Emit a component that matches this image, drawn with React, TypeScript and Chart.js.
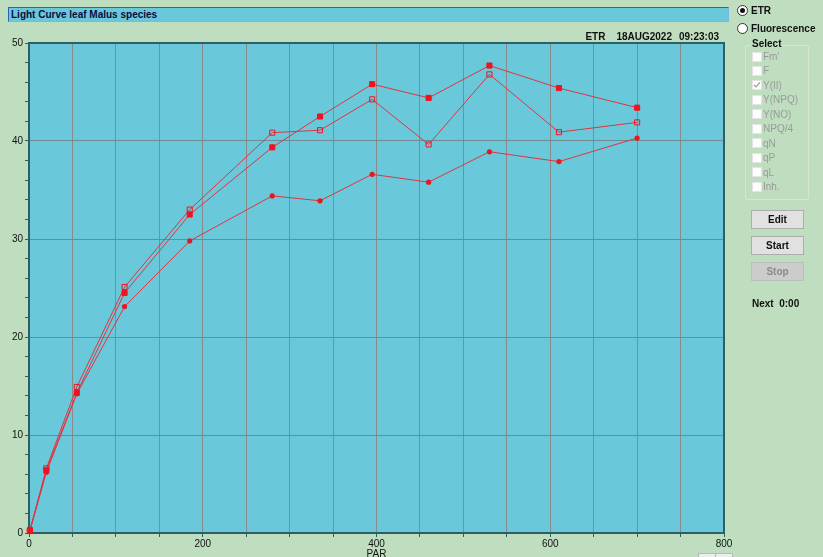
import React, { useEffect, useRef } from 'react';
import { Chart, registerables } from 'chart.js';

Chart.register(...registerables);

// ---- data ----
const PAR = [1, 20, 55, 110, 185, 280, 335, 395, 460, 530, 610, 700];
const etrFilledSquare = [0.3, 6.4, 14.3, 24.5, 32.5, 39.35, 42.5, 45.8, 44.4, 47.7, 45.4, 43.4];
const etrOpenSquare = [0.2, 6.6, 14.9, 25.1, 33.0, 40.85, 41.1, 44.25, 39.65, 46.8, 40.9, 41.9];
const etrCircle = [0.2, 6.2, 14.2, 23.1, 29.8, 34.4, 33.9, 36.6, 35.8, 38.9, 37.9, 40.3];

const xMin = 0;
const xMax = 800;
const xGridStep = 50;
const xLabelStep = 200;
const yMin = 0;
const yMax = 50;
const yMinorStep = 2;
const yLabelStep = 10;

const titleText = 'Light Curve leaf Malus species';
const stampParts = ['ETR', '18AUG2022', '09:23:03'];
const xAxisTitle = 'PAR';
const radioItems = ['ETR', 'Fluorescence'];
const checkItems = ["Fm'", 'F', 'Y(II)', 'Y(NPQ)', 'Y(NO)', 'NPQ/4', 'qN', 'qP', 'qL', 'Inh.'];
const checkedItems = ['Y(II)'];
const buttons = ['Edit', 'Start', 'Stop'];
const nextText = 'Next  0:00';

// ---- styles ----
const BG = '#bfddbf';
const PLOT = '#69c9db';
const GRID_V = '#868a8b';
const GRID_H = '#6f8a90';
const AXIS = '#2d5f66';
const LINE = '#e0343f';
const MARK = '#f2121e';
const TICK_FONT = { family: '"Liberation Sans Narrow", "Liberation Sans", Arial, sans-serif', size: 10 };
const UI_FONT = '"Liberation Sans", Arial, sans-serif';

const range = (a: number, b: number, s: number) => {
  const out: number[] = [];
  for (let v = a; v <= b + 1e-9; v += s) out.push(v);
  return out;
};

const plotPlugin = {
  id: 'plotFrame',
  beforeDraw(chart: any) {
    const { ctx, chartArea: a } = chart;
    ctx.save();
    ctx.fillStyle = PLOT;
    ctx.fillRect(a.left, a.top, a.right - a.left, a.bottom - a.top);
    ctx.restore();
  },
  beforeDatasetsDraw(chart: any) {
    const { ctx, chartArea: a } = chart;
    ctx.save();
    ctx.strokeStyle = AXIS;
    ctx.lineWidth = 2;
    ctx.beginPath();
    ctx.moveTo(a.left, a.top);
    ctx.lineTo(a.right, a.top);
    ctx.lineTo(a.right, a.bottom);
    ctx.stroke();
    ctx.restore();
  },
};

function Radio({ label, checked, top }: { label: string; checked: boolean; top: number }) {
  return (
    <div style={{ position: 'absolute', left: 737, top, height: 12, display: 'flex', alignItems: 'center' }}>
      <div
        style={{
          width: 9,
          height: 9,
          borderRadius: '50%',
          border: '1px solid #333',
          background: '#fff',
          display: 'flex',
          alignItems: 'center',
          justifyContent: 'center',
        }}
      >
        {checked && <div style={{ width: 5, height: 5, borderRadius: '50%', background: '#111' }} />}
      </div>
      <span style={{ marginLeft: 3, font: `bold 10px ${UI_FONT}`, color: '#111' }}>{label}</span>
    </div>
  );
}

export default function App() {
  const ref = useRef<HTMLCanvasElement>(null);

  useEffect(() => {
    document.body.style.margin = '0';
    const mk = (ys: number[]) => PAR.map((x, i) => ({ x, y: ys[i] }));
    const chart = new Chart(ref.current as HTMLCanvasElement, {
      type: 'line',
      data: {
        datasets: [
          {
            data: mk(etrFilledSquare),
            borderColor: LINE,
            borderWidth: 1,
            pointStyle: 'rect',
            pointRadius: 3.6,
            pointBackgroundColor: MARK,
            pointBorderColor: MARK,
            pointBorderWidth: 1,
            clip: false,
          } as any,
          {
            data: mk(etrOpenSquare),
            borderColor: LINE,
            borderWidth: 1,
            pointStyle: 'rect',
            pointRadius: 3.6,
            pointBackgroundColor: 'rgba(0,0,0,0)',
            pointBorderColor: MARK,
            pointBorderWidth: 1,
            clip: false,
          } as any,
          {
            data: mk(etrCircle),
            borderColor: LINE,
            borderWidth: 1,
            pointStyle: 'circle',
            pointRadius: 2.6,
            pointBackgroundColor: MARK,
            pointBorderColor: MARK,
            pointBorderWidth: 0,
            clip: false,
          } as any,
        ],
      },
      options: {
        responsive: false,
        animation: false,
        devicePixelRatio: 1,
        layout: { padding: { top: 43, right: 16, left: 0, bottom: 0 } },
        plugins: { legend: { display: false }, tooltip: { enabled: false } },
        elements: { line: { tension: 0 } },
        scales: {
          x: {
            type: 'linear',
            min: xMin,
            max: xMax,
            afterBuildTicks: (s: any) => {
              s.ticks = range(xMin, xMax, xGridStep).map((value) => ({ value }));
            },
            afterFit: (s: any) => {
              s.height = 27;
            },
            ticks: {
              autoSkip: false,
              maxRotation: 0,
              padding: 1,
              color: '#111',
              font: TICK_FONT,
              callback: (v: any) => (Number(v) % xLabelStep === 0 ? String(v) : ''),
            },
            grid: {
              color: (c: any) => (c.tick && (c.tick.value === xMin || c.tick.value === xMax) ? 'rgba(0,0,0,0)' : GRID_V),
              tickColor: AXIS,
              tickLength: 4,
              lineWidth: 1,
            },
            border: { color: AXIS, width: 2 },
            title: {
              display: true,
              text: xAxisTitle,
              color: '#111',
              font: TICK_FONT,
              padding: { top: 0, bottom: 0 },
            },
          },
          y: {
            type: 'linear',
            min: yMin,
            max: yMax,
            afterBuildTicks: (s: any) => {
              s.ticks = range(yMin, yMax, yMinorStep).map((value) => ({ value }));
            },
            afterFit: (s: any) => {
              s.width = 29;
            },
            ticks: {
              autoSkip: false,
              padding: 2,
              color: '#111',
              font: TICK_FONT,
              callback: (v: any) => (Number(v) % yLabelStep === 0 ? String(v) : ''),
            },
            grid: {
              color: (c: any) =>
                c.tick && c.tick.value % yLabelStep === 0 && c.tick.value !== yMin && c.tick.value !== yMax
                  ? GRID_H
                  : 'rgba(0,0,0,0)',
              tickColor: AXIS,
              tickLength: 4,
              lineWidth: 1,
            },
            border: { color: AXIS, width: 2 },
          },
        },
      },
      plugins: [plotPlugin],
    } as any);
    return () => chart.destroy();
  }, []);

  return (
    <div
      style={{
        position: 'fixed',
        left: 0,
        top: 0,
        width: 823,
        height: 557,
        background: BG,
        overflow: 'hidden',
        fontFamily: UI_FONT,
      }}
    >
      <canvas ref={ref} width={740} height={560} style={{ position: 'absolute', left: 0, top: 0, display: 'block' }} />

      {/* title bar */}
      <div
        style={{
          position: 'absolute',
          left: 8,
          top: 7,
          width: 717,
          height: 13,
          background: PLOT,
          borderTop: '1px solid #2b63b0',
          borderLeft: '1px solid #2b63b0',
          borderRight: '1px solid #7fb4e6',
          borderBottom: '1px solid #7fb4e6',
          font: `bold 10px ${UI_FONT}`,
          lineHeight: '13px',
          color: '#0c0c40',
          paddingLeft: 2,
          boxSizing: 'content-box',
          whiteSpace: 'nowrap',
        }}
      >
        {titleText}
      </div>

      {/* time stamp */}
      <div
        style={{
          position: 'absolute',
          right: 823 - 719,
          top: 31,
          font: `bold 10px ${UI_FONT}`,
          color: '#111',
          whiteSpace: 'nowrap',
        }}
      >
        <span>{stampParts[0]}</span>
        <span style={{ marginLeft: 11 }}>{stampParts[1]}</span>
        <span style={{ marginLeft: 7 }}>{stampParts[2]}</span>
      </div>

      {/* right panel */}
      {radioItems.map((r, i) => (
        <Radio key={r} label={r} checked={i === 0} top={4 + i * 18} />
      ))}

      <div
        style={{
          position: 'absolute',
          left: 745,
          top: 45,
          width: 62,
          height: 153,
          border: '1px solid #d6e6d6',
          borderRadius: 2,
        }}
      />
      <div
        style={{
          position: 'absolute',
          left: 751,
          top: 38,
          padding: '0 1px',
          background: BG,
          font: `bold 10px ${UI_FONT}`,
          color: '#111',
          lineHeight: '12px',
        }}
      >
        Select
      </div>
      {checkItems.map((c, i) => (
        <div
          key={c}
          style={{
            position: 'absolute',
            left: 752,
            top: 51 + i * 14.45,
            height: 11,
            display: 'flex',
            alignItems: 'center',
          }}
        >
          <div
            style={{
              width: 8,
              height: 8,
              background: '#fdfdfd',
              border: '1px solid #e4e4e4',
              position: 'relative',
            }}
          >
            {checkedItems.includes(c) && (
              <svg width={8} height={8} style={{ position: 'absolute', left: 0, top: 0 }}>
                <polyline points="1,4 3,6 7,1.5" fill="none" stroke="#a0a0a0" strokeWidth={1.2} />
              </svg>
            )}
          </div>
          <span style={{ marginLeft: 1, font: `10px ${UI_FONT}`, color: '#9a9a9a' }}>{c}</span>
        </div>
      ))}

      {buttons.map((b, i) => {
        const disabled = b === 'Stop';
        return (
          <div
            key={b}
            style={{
              position: 'absolute',
              left: 751,
              top: 210 + i * 26,
              width: 51,
              height: 17,
              background: disabled ? '#cccccc' : '#e1e1e1',
              border: `1px solid ${disabled ? '#bdbdbd' : '#adadad'}`,
              font: `bold 10px ${UI_FONT}`,
              color: disabled ? '#8a8a8a' : '#111',
              display: 'flex',
              alignItems: 'center',
              justifyContent: 'center',
            }}
          >
            {b}
          </div>
        );
      })}

      <div
        style={{
          position: 'absolute',
          left: 752,
          top: 298,
          font: `bold 10px ${UI_FONT}`,
          color: '#111',
          whiteSpace: 'pre',
        }}
      >
        {nextText}
      </div>

      {/* partially visible control at the bottom */}
      <div
        style={{
          position: 'absolute',
          left: 698,
          top: 553,
          width: 16,
          height: 10,
          background: '#ececec',
          border: '1px solid #b8b8b8',
        }}
      />
      <div
        style={{
          position: 'absolute',
          left: 715,
          top: 553,
          width: 16,
          height: 10,
          background: '#ececec',
          border: '1px solid #b8b8b8',
        }}
      />
    </div>
  );
}
